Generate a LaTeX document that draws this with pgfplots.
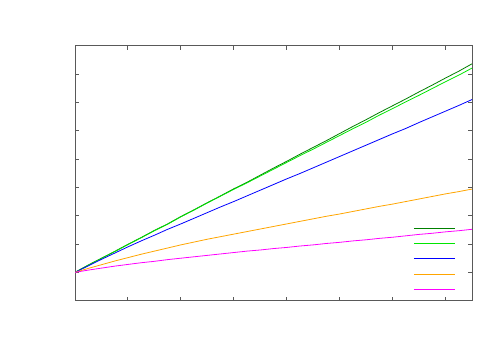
\documentclass[border=0pt]{standalone}
\usepackage{pgfplots}
\pgfplotsset{compat=1.18}

\definecolor{darkgreen}{RGB}{0,128,0}
\definecolor{brightgreen}{RGB}{0,230,0}
\definecolor{pureblue}{RGB}{0,0,255}
\definecolor{orange}{RGB}{255,165,0}
\definecolor{magenta}{RGB}{255,0,255}

\begin{document}
\begin{tikzpicture}[x=1pt,y=1pt]
% page frame: 500 x 350 with the axis box at (75,45.7)-(472,300.7) in pixels
\path (-75,-49.3) rectangle (425,300.7);
\begin{axis}[
at={(0,0)}, anchor=south west,
scale only axis,
width=397pt, height=255pt,
xmin=0, xmax=7.5,
ymin=0, ymax=9,
xtick={0,1,...,7},
ytick={0,1,...,9},
xticklabels={}, yticklabels={},
tick align=inside,
tick pos=both,
major tick length=4pt,
axis line style={draw=black!65, line width=0.9pt},
every tick/.style={draw=black!65, line width=0.9pt},
legend style={draw=none, fill=none, inner sep=0pt, row sep=13.8pt,
  nodes={inner sep=0pt},
  at={(axis description cs:0.961,0.288)}, anchor=north east},
legend image code/.code={\draw[#1] (0pt,0pt) -- (41pt,0pt);},
]
\addplot [line width=0.8pt, darkgreen] table {%
0 1.00
0.25 1.26
0.5 1.50
0.75 1.74
1.0 1.99
1.25 2.23
1.5 2.48
1.75 2.71
2.0 2.97
2.25 3.21
2.5 3.46
2.75 3.70
3.0 3.95
3.25 4.18
3.5 4.43
3.75 4.68
4.0 4.92
4.25 5.17
4.5 5.41
4.75 5.65
5.0 5.90
5.25 6.15
5.5 6.39
5.75 6.64
6.0 6.88
6.25 7.12
6.5 7.37
6.75 7.61
7.0 7.86
7.25 8.10
7.5 8.36
};
\addlegendentry{}
\addplot [line width=0.8pt, brightgreen] table {%
0 1.00
0.25 1.25
0.5 1.49
0.75 1.73
1.0 1.98
1.25 2.22
1.5 2.47
1.75 2.70
2.0 2.96
2.25 3.20
2.5 3.45
2.75 3.69
3.0 3.93
3.25 4.16
3.5 4.40
3.75 4.64
4.0 4.88
4.25 5.12
4.5 5.35
4.75 5.59
5.0 5.83
5.25 6.07
5.5 6.30
5.75 6.55
6.0 6.78
6.25 7.02
6.5 7.25
6.75 7.49
7.0 7.73
7.25 7.96
7.5 8.21
};
\addlegendentry{}
\addplot [line width=0.8pt, pureblue] table {%
0 1.00
0.25 1.23
0.5 1.46
0.75 1.68
1.0 1.90
1.25 2.11
1.5 2.31
1.75 2.52
2.0 2.71
2.25 2.91
2.5 3.11
2.75 3.31
3.0 3.50
3.25 3.70
3.5 3.90
3.75 4.10
4.0 4.30
4.25 4.49
4.5 4.69
4.75 4.89
5.0 5.09
5.25 5.29
5.5 5.49
5.75 5.69
6.0 5.89
6.25 6.08
6.5 6.29
6.75 6.49
7.0 6.69
7.25 6.89
7.5 7.10
};
\addlegendentry{}
\addplot [line width=0.8pt, orange] table {%
0 1.00
0.25 1.14
0.5 1.27
0.75 1.40
1.0 1.52
1.25 1.64
1.5 1.75
1.75 1.86
2.0 1.97
2.25 2.07
2.5 2.17
2.75 2.26
3.0 2.35
3.25 2.44
3.5 2.53
3.75 2.62
4.0 2.71
4.25 2.80
4.5 2.89
4.75 2.98
5.0 3.06
5.25 3.15
5.5 3.24
5.75 3.33
6.0 3.41
6.25 3.50
6.5 3.59
6.75 3.68
7.0 3.77
7.25 3.85
7.5 3.94
};
\addlegendentry{}
\addplot [line width=0.8pt, magenta] table {%
0 1.00
0.25 1.08
0.5 1.15
0.75 1.22
1.0 1.28
1.25 1.34
1.5 1.39
1.75 1.45
2.0 1.50
2.25 1.55
2.5 1.60
2.75 1.65
3.0 1.70
3.25 1.75
3.5 1.79
3.75 1.84
4.0 1.88
4.25 1.93
4.5 1.97
4.75 2.02
5.0 2.06
5.25 2.11
5.5 2.15
5.75 2.20
6.0 2.24
6.25 2.29
6.5 2.34
6.75 2.38
7.0 2.43
7.25 2.47
7.5 2.52
};
\addlegendentry{}
\end{axis}
\end{tikzpicture}
\end{document}
